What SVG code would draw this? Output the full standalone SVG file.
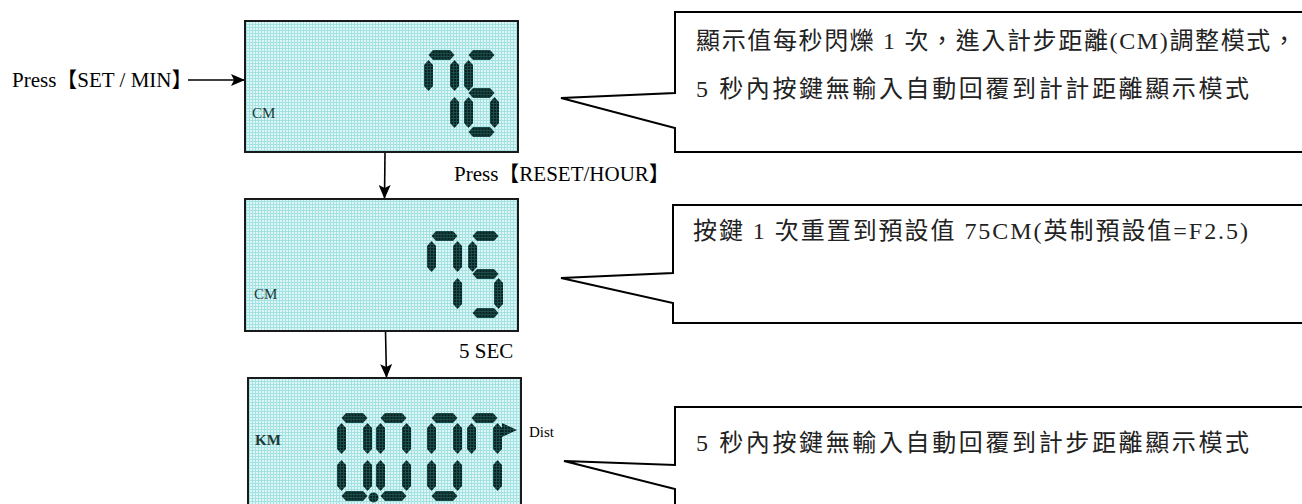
<svg xmlns="http://www.w3.org/2000/svg" xmlns:xlink="http://www.w3.org/1999/xlink" width="1302" height="504" viewBox="0 0 1302 504">
<style>
.lbl{font-family:"Liberation Serif","Noto Sans CJK TC",serif;font-size:21px;fill:#000}
.unit{font-family:"Liberation Serif",serif;font-size:15px;fill:#1d3a3a}
.note{font-family:"Liberation Serif","Noto Sans CJK TC",serif;font-size:24px;fill:#222}
.lcd{fill:url(#lcdbg);stroke:#1a1a1a;stroke-width:2}
.seg{fill:url(#segbg)}
.call{fill:#fff;stroke:#000;stroke-width:2;stroke-linejoin:miter}
.conn{stroke:#000;stroke-width:1.6;fill:none;marker-end:url(#arr)}
</style>
<defs>
<pattern id="lcdbg" width="3" height="3" patternUnits="userSpaceOnUse">
<rect width="3" height="3" fill="#e0f6f6"/>
<rect width="3" height="1" fill="#a2e2e2"/>
<rect width="1" height="3" fill="#a2e2e2"/>
</pattern>
<pattern id="segbg" width="3" height="3" patternUnits="userSpaceOnUse">
<rect width="3" height="3" fill="#072423"/>
<rect width="3" height="1" fill="#1d4b49"/>
<rect width="1" height="3" fill="#1d4b49"/>
</pattern>
<path id="h" d="M4.5,0 H21.5 L26,5 L21.5,10 H4.5 L0,5 Z"/>
<path id="v" d="M4.5,0 L9,5 V26 L4.5,31 L0,26 V5 Z"/>
<marker id="arr" markerUnits="userSpaceOnUse" markerWidth="14" markerHeight="12" refX="14" refY="6" orient="auto">
<path d="M0,0 L14,6 L0,12 L3,6 Z" fill="#000"/>
</marker>
</defs>
<rect width="1302" height="504" fill="#fff"/>

<g id="connectors">
<line class="conn" x1="188" y1="80" x2="245" y2="80"/>
<line class="conn" x1="385" y1="152" x2="384.5" y2="199"/>
<line class="conn" x1="385.5" y1="331" x2="386.5" y2="378"/>
</g>

<g id="label-set">
<text class="lbl" x="12" y="87">Press【SET / MIN】</text>
</g>
<g id="label-reset">
<text class="lbl" x="454" y="181">Press【RESET/HOUR】</text>
</g>
<g id="label-5sec">
<text class="lbl" x="459" y="358">5 SEC</text>
</g>

<g id="lcd1">
<rect class="lcd" x="245" y="21" width="273" height="131"/>
<text class="unit" x="252" y="118">CM</text>
<g class="seg" transform="translate(424,50)">
<use xlink:href="#h" x="4.5" y="0"/><use xlink:href="#v" x="0" y="10"/><use xlink:href="#v" x="26" y="10"/><use xlink:href="#v" x="26" y="47"/>
</g>
<g class="seg" transform="translate(464,50)">
<use xlink:href="#h" x="4.5" y="0"/><use xlink:href="#v" x="0" y="10"/><use xlink:href="#h" x="4.5" y="38"/><use xlink:href="#v" x="0" y="47"/><use xlink:href="#v" x="26" y="47"/><use xlink:href="#h" x="4.5" y="77"/>
</g>
</g>

<g id="lcd2">
<rect class="lcd" x="245" y="199" width="273" height="132"/>
<text class="unit" x="254" y="299">CM</text>
<g class="seg" transform="translate(427,231)">
<use xlink:href="#h" x="4.5" y="0"/><use xlink:href="#v" x="0" y="10"/><use xlink:href="#v" x="26" y="10"/><use xlink:href="#v" x="26" y="47"/>
</g>
<g class="seg" transform="translate(468,231)">
<use xlink:href="#h" x="4.5" y="0"/><use xlink:href="#v" x="0" y="10"/><use xlink:href="#h" x="4.5" y="38"/><use xlink:href="#v" x="26" y="47"/><use xlink:href="#h" x="4.5" y="77"/>
</g>
</g>

<g id="lcd3">
<rect class="lcd" x="248" y="378" width="273" height="140"/>
<text class="unit" x="255" y="445" font-weight="bold">KM</text>
<g class="seg" transform="translate(337,413)">
<use xlink:href="#h" x="4.5" y="0"/><use xlink:href="#v" x="0" y="10"/><use xlink:href="#v" x="26" y="10"/><use xlink:href="#v" x="0" y="47"/><use xlink:href="#v" x="26" y="47"/><use xlink:href="#h" x="4.5" y="78"/>
</g>
<circle class="seg" cx="373.5" cy="497.5" r="5"/>
<g class="seg" transform="translate(376,413)">
<use xlink:href="#h" x="4.5" y="0"/><use xlink:href="#v" x="0" y="10"/><use xlink:href="#v" x="26" y="10"/><use xlink:href="#v" x="0" y="47"/><use xlink:href="#v" x="26" y="47"/><use xlink:href="#h" x="4.5" y="78"/>
</g>
<g class="seg" transform="translate(427,413)">
<use xlink:href="#h" x="4.5" y="0"/><use xlink:href="#v" x="0" y="10"/><use xlink:href="#v" x="26" y="10"/><use xlink:href="#v" x="0" y="47"/><use xlink:href="#v" x="26" y="47"/><use xlink:href="#h" x="4.5" y="78"/>
</g>
<g class="seg" transform="translate(467,413)">
<use xlink:href="#h" x="4.5" y="0"/><use xlink:href="#v" x="0" y="10"/><use xlink:href="#v" x="26" y="10"/><use xlink:href="#v" x="26" y="47"/>
</g>
<polygon class="seg" points="502,423 517,430 502,437"/>
</g>
<g id="label-dist">
<text class="unit" x="529" y="437" style="fill:#000">Dist</text>
</g>

<g id="callout1">
<path class="call" d="M1312,12 H675 V93 L561,98 L675,128 V152 H1312"/>
<text class="note" x="696" y="49" textLength="600" lengthAdjust="spacing">顯示值每秒閃爍 1 次，進入計步距離(CM)調整模式，</text>
<text class="note" x="696" y="97" textLength="553" lengthAdjust="spacing">5 秒內按鍵無輸入自動回覆到計計距離顯示模式</text>
</g>

<g id="callout2">
<path class="call" d="M1312,205 H673 V273 L561,278 L673,303 V323 H1312"/>
<text class="note" x="693" y="239" textLength="555" lengthAdjust="spacing">按鍵 1 次重置到預設值 75CM(英制預設值=F2.5)</text>
</g>

<g id="callout3">
<path class="call" d="M1312,407 H675 V465 L564,461 L675,489 V520"/>
<text class="note" x="696" y="451" textLength="553" lengthAdjust="spacing">5 秒內按鍵無輸入自動回覆到計步距離顯示模式</text>
</g>
</svg>
